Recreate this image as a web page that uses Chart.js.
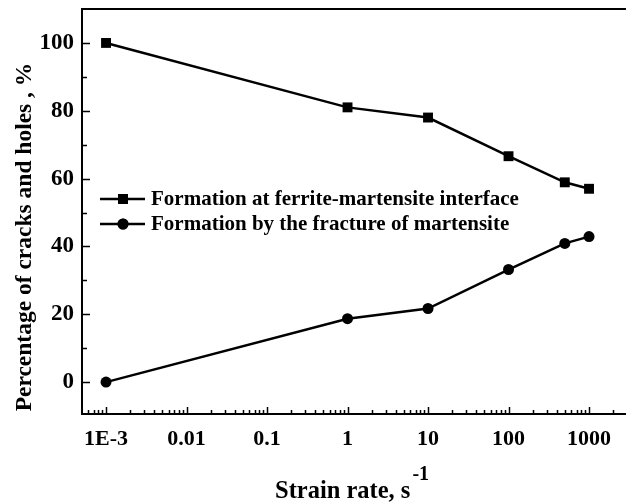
<!DOCTYPE html>
<html>
<head>
<meta charset="utf-8">
<script src="https://cdn.jsdelivr.net/npm/chart.js@4.4.1/dist/chart.umd.min.js"></script>
<style>
  html, body { margin: 0; padding: 0; background: #fff; }
  #wrap { width: 626px; height: 503px; }
</style>
</head>
<body>
<div id="wrap"><canvas id="c" width="626" height="503"></canvas></div>
<script>
// data
const strainRates = [0.001, 1, 10, 100, 500, 1000];
const interfaceVals = [100, 81, 78, 66.6, 58.9, 57];
const martensiteVals = [0, 18.7, 21.7, 33.2, 40.9, 42.9];
const seriesNames = ['Formation at ferrite-martensite interface', 'Formation by the fracture of martensite'];
const xTickLabels = ['1E-3', '0.01', '0.1', '1', '10', '100', '1000'];
const xDecades = [0.001, 0.01, 0.1, 1, 10, 100, 1000];
const yMajor = [0, 20, 40, 60, 80, 100];
const yMinor = [10, 30, 50, 70, 90];

const FONT = '"Liberation Serif", "Times New Roman", serif';

function pts(xs, ys) {
    return xs.map((x, i) => ({ x: x, y: ys[i] }));
}

function noPad(scale) {
    scale.paddingLeft = 0;
    scale.paddingRight = 0;
    scale.paddingTop = 0;
    scale.paddingBottom = 0;
}

// minor ticks on the log axis: 1..9 within each decade
function logTicks(min, max) {
    const out = [];
    for (let e = -4; e <= 4; e++) {
        for (let m = 1; m <= 9; m++) {
            const v = m * Math.pow(10, e);
            if (v >= min && v <= max) out.push(v);
        }
    }
    return out;
}

// inward ticks, top frame line, legend and axis titles
const decor = {
    id: 'decor',
    afterDraw(chart) {
        const ctx = chart.ctx;
        const xs = chart.scales.x, ys = chart.scales.y;
        const area = chart.chartArea;
        ctx.save();
        ctx.strokeStyle = '#000';
        ctx.lineWidth = 2;
        ctx.beginPath();
        ctx.moveTo(area.left, area.top);
        ctx.lineTo(chart.width, area.top);
        ctx.stroke();

        ctx.lineWidth = 1.5;
        ctx.beginPath();
        logTicks(xs.min, xs.max).forEach(v => {
            const px = Math.round(xs.getPixelForValue(v)) + 0.5;
            const major = xDecades.some(d => Math.abs(d - v) / d < 1e-9);
            ctx.moveTo(px, area.bottom);
            ctx.lineTo(px, area.bottom - (major ? 7 : 4));
        });
        yMajor.concat(yMinor).forEach(v => {
            const py = Math.round(ys.getPixelForValue(v)) + 0.5;
            const major = yMajor.includes(v);
            ctx.moveTo(area.left, py);
            ctx.lineTo(area.left + (major ? 8 : 5), py);
        });
        ctx.stroke();

        // legend
        ctx.font = 'bold 21px ' + FONT;
        ctx.textBaseline = 'middle';
        ctx.fillStyle = '#000';
        const rows = [199, 224];
        chart.data.datasets.forEach((ds, i) => {
            const y = rows[i];
            ctx.lineWidth = 2.5;
            ctx.beginPath();
            ctx.moveTo(100, y);
            ctx.lineTo(145, y);
            ctx.stroke();
            Chart.helpers.drawPoint(ctx, {
                pointStyle: ds.pointStyle, radius: ds.pointRadius, rotation: 0, borderWidth: 0
            }, 123, y);
            ctx.fill();
            ctx.textAlign = 'left';
            ctx.fillText(ds.label, 151, y + 1);
        });

        // y title
        ctx.font = 'bold 23.5px ' + FONT;
        ctx.save();
        ctx.translate(25, 237);
        ctx.rotate(-Math.PI / 2);
        ctx.textAlign = 'center';
        ctx.textBaseline = 'middle';
        ctx.fillText('Percentage of cracks and holes , %', 0, 0);
        ctx.restore();

        // x title with superscript
        ctx.textBaseline = 'alphabetic';
        ctx.textAlign = 'left';
        ctx.font = 'bold 24.5px ' + FONT;
        const main = 'Strain rate, s';
        const w = ctx.measureText(main).width;
        const x0 = 275;
        ctx.fillText(main, x0, 498);
        ctx.font = 'bold 20px ' + FONT;
        ctx.fillText('-1', x0 + w + 2, 480);
        ctx.restore();
    }
};

new Chart(document.getElementById('c').getContext('2d'), {
    type: 'line',
    data: {
        datasets: [{
            label: seriesNames[0],
            data: pts(strainRates, interfaceVals),
            borderColor: '#000',
            backgroundColor: '#000',
            borderWidth: 2.5,
            pointStyle: 'rect',
            pointRadius: 7,
            pointBorderWidth: 0
        }, {
            label: seriesNames[1],
            data: pts(strainRates, martensiteVals),
            borderColor: '#000',
            backgroundColor: '#000',
            borderWidth: 2.5,
            pointStyle: 'circle',
            pointRadius: 5.5,
            pointBorderWidth: 0
        }]
    },
    options: {
        responsive: false,
        animation: false,
        layout: { autoPadding: false, padding: { top: 9, right: 0, left: 0, bottom: 0 } },
        plugins: { legend: { display: false }, tooltip: { enabled: false } },
        scales: {
            x: {
                type: 'logarithmic',
                min: 0.000503,
                max: 2880,
                afterBuildTicks(scale) {
                    scale.ticks = xDecades.map(v => ({ value: v }));
                },
                afterFit(scale) {
                    scale.height = 89;
                    noPad(scale);
                },
                grid: { display: false, drawTicks: false },
                border: { display: true, color: '#000', width: 2 },
                ticks: {
                    autoSkip: false,
                    maxRotation: 0,
                    padding: 12,
                    color: '#000',
                    font: { family: FONT, size: 22, weight: 'bold' },
                    callback: (v, i) => xTickLabels[i]
                }
            },
            y: {
                min: -9.4,
                max: 110,
                afterBuildTicks(scale) {
                    scale.ticks = yMajor.map(v => ({ value: v }));
                },
                afterFit(scale) {
                    scale.width = 82;
                    noPad(scale);
                },
                grid: { display: false, drawTicks: false },
                border: { display: true, color: '#000', width: 2 },
                ticks: {
                    padding: 8,
                    color: '#000',
                    font: { family: FONT, size: 23, weight: 'bold' }
                }
            }
        }
    },
    plugins: [decor]
});
</script>
</body>
</html>
